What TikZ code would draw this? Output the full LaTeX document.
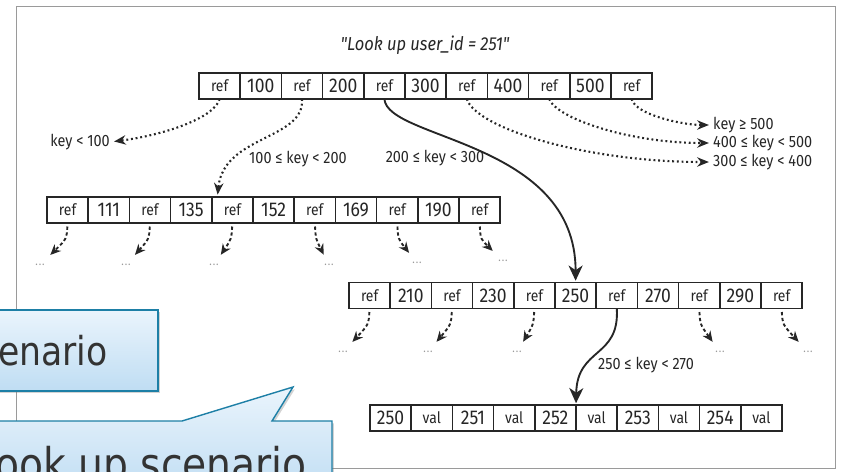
\documentclass[tikz,border=0pt]{standalone}
\usepackage{fontspec}
\usetikzlibrary{arrows.meta,calc,shadows}
\definecolor{ink}{HTML}{262626}
\definecolor{frame}{HTML}{9A9A9A}
\definecolor{calloutline}{HTML}{1D7FA6}
\definecolor{callouttop}{HTML}{EAF4FC}
\definecolor{calloutbot}{HTML}{BFDDF3}
\definecolor{callouttext}{HTML}{333333}
\newfontfamily\dgmfont[FakeStretch=0.88]{Fira Sans}
\newfontfamily\callfont[FakeStretch=0.87]{DejaVu Sans}
\newcommand\rf{{\fontsize{13.5}{14}\selectfont ref}}
\newcommand\vl{{\fontsize{13.5}{14}\selectfont val}}
% one B-tree page: name, left x, centre y, cells
\newcommand\btrow[4]{%
  \foreach \cellt [count=\i] in {#4}
    \node[cell] (#1-\i) at ({#2+(\i-0.5)*41.2},#3) {\cellt};}
\tikzset{
  cell/.style={draw=ink, line width=1.3pt, minimum width=1.236cm, minimum height=0.78cm,
    inner sep=0pt, outer sep=0pt, text=ink, font=\dgmfont\fontsize{17}{18}\selectfont},
  keylbl/.style={text=ink, inner sep=0pt, font=\dgmfont\fontsize{14}{15}\selectfont},
  more/.style={text=black!40, inner sep=7pt, font=\dgmfont\fontsize{10}{10}\selectfont},
  hop/.style={ink, line width=1.8pt, dash pattern=on 1.6pt off 2.4pt,
    -{Stealth[length=10pt,width=8pt]}, shorten >=3.5pt},
  subhop/.style={ink, line width=1.6pt, dash pattern=on 2.8pt off 2.2pt,
    -{Stealth[length=9pt,width=8pt]}, shorten <=3pt, shorten >=1pt},
  walk/.style={ink, line width=1.6pt, -{Stealth[length=13pt,width=12pt,inset=4pt]}, shorten >=1.5pt},
  callout/.style={draw=calloutline, line width=1.2pt, top color=callouttop, bottom color=calloutbot,
    drop shadow={shadow xshift=1.5pt, shadow yshift=-2pt, opacity=0.35}},
  callouttxt/.style={text=callouttext, inner sep=0pt, font=\callfont\fontsize{38.5}{42}\selectfont},
}

\begin{document}
\begin{tikzpicture}[x=0.03cm, y=-0.03cm]
  \useasboundingbox (0,0) rectangle (843,471);
  \clip (0,0) rectangle (843,471);

  % scanned page frame
  \draw[frame, line width=0.8pt] (16,6) rectangle (835,468);

  % Title
  \node[keylbl, font=\dgmfont\itshape\fontsize{16}{17}\selectfont] (title) at (425,45) {"Look up user\_id = 251"};

  % Pages
  \btrow{root}{199}{86}{\rf,100,\rf,200,\rf,300,\rf,400,\rf,500,\rf}
  \btrow{inA}{47}{210}{\rf,111,\rf,135,\rf,152,\rf,169,\rf,190,\rf}
  \btrow{inB}{349}{295.5}{\rf,210,\rf,230,\rf,250,\rf,270,\rf,290,\rf}
  \btrow{leaf}{370}{418}{250,\vl,251,\vl,252,\vl,253,\vl,254,\vl}

  % Key ranges
  \node[keylbl, anchor=east] (lt100) at (110,142) {key < 100};
  \node[keylbl, anchor=west] (in100) at (249,159) {100 ≤ key < 200};
  \node[keylbl] (in200) at (435,158) {200 ≤ key < 300};
  \node[keylbl, anchor=west] (ge500) at (713,125) {key ≥ 500};
  \node[keylbl, anchor=west] (in400) at (713,143) {400 ≤ key < 500};
  \node[keylbl, anchor=west] (in300) at (713,162) {300 ≤ key < 400};
  \node[keylbl, anchor=west] (in250) at (598,365) {250 ≤ key < 270};

  % Root references
  \draw[hop] (root-1.south) .. controls ($(root-1.south)+(-5,19)$) and ($(lt100.east)+(54,-7)$) .. (lt100.east);
  \draw[hop, shorten >=2pt] (root-3.south) .. controls ($(root-3.south)+(3,41)$) and ($(inA-5.north)+(-9,-62)$) .. ([xshift=-0.45cm]inA-5.north);
  \draw[hop] (root-7.south) .. controls ($(root-7.south)+(10,30)$) and ($(in300.west)+(-125,0)$) .. (in300.west);
  \draw[hop] (root-9.south) .. controls ($(root-9.south)+(7,19)$) and ($(in400.west)+(-85,0)$) .. (in400.west);
  \draw[hop] (root-11.south) .. controls ($(root-11.south)+(4,16)$) and ($(ge500.west)+(-30,0)$) .. (ge500.west);

  % Path of the lookup
  \draw[walk] (root-5.south) .. controls ($(root-5.south)+(3,41)$) and ($(inB-6.north)+(0,-142)$) .. (inB-6.north);
  \draw[walk] (inB-7.south) .. controls ($(inB-7.south)+(3,50)$) and ($(leaf-6.north west)+(1,-58)$) .. (leaf-6.north west);

  % Further pages
  \foreach \r/\px/\py/\sx [count=\k] in {1/40/265/-1, 3/126/265/-1, 5/214/265/-1, 7/329/265/1, 9/417/263/1, 11/503/261/1} {
    \node[more] (moreA\k) at (\px,\py) {.\kern0.8pt.\kern0.8pt.};
    \draw[subhop] (inA-\r.south) .. controls ($(inA-\r.south)+(\sx,16)$) .. (moreA\k);
  }
  \foreach \r/\px/\py/\sx [count=\k] in {1/343/352/-1, 3/428/352/-1, 5/517/352/-1, 9/720/352/1, 11/808/352/1} {
    \node[more] (moreB\k) at (\px,\py) {.\kern0.8pt.\kern0.8pt.};
    \draw[subhop] (inB-\r.south) .. controls ($(inB-\r.south)+(\sx,16)$) .. (moreB\k);
  }

  % Slide callouts
  \path[callout] (-20,310) rectangle (158,391);
  \node[callouttxt, font=\callfont\fontsize{34}{38}\selectfont, anchor=base east] (scnA) at (108,365) {enario};
  \path[callout] (-20,421) -- (182,421) -- (293,387) -- (272,421) -- (332,421) -- (332,495) -- (-20,495) -- cycle;
  \node[callouttxt, anchor=base east] (scnB) at (307,480) {Look up scenario};
\end{tikzpicture}
\end{document}
